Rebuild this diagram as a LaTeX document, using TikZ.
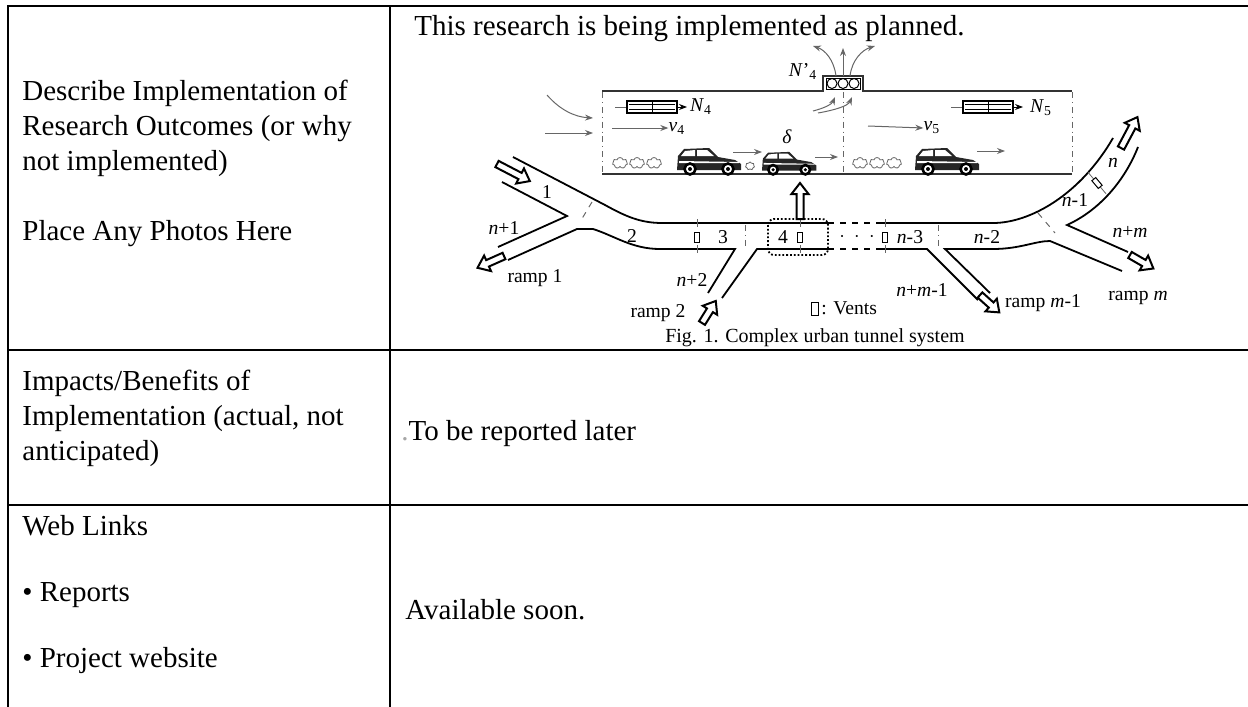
\documentclass[tikz,border=0pt]{standalone}
\usepackage{fontspec}
\setmainfont{Liberation Serif}
\usetikzlibrary{
  arrows.meta,
  shapes.symbols,
}
\tikzset{
  x = 0.5pt,
  y = -0.5pt,
  >={Stealth[length=4pt, width=3pt]},
  rule/.style={line width=1.25pt},
  cell/.style={anchor=base west, inner sep=0pt, align=left,
    font=\fontsize{14.5}{17.5}\selectfont},
  lbl/.style={inner sep=0pt, font=\fontsize{9.8}{11}\selectfont},
  road/.style={line width=0.9pt},
  air/.style={->, black!60, line width=0.5pt},
  sect/.style={black!60, dash dot, line width=0.5pt},
  puff/.style={cloud, cloud puffs=7, draw=black!60, minimum width=7.5pt,
    minimum height=5.5pt, inner sep=0pt},
  pics/hollow/.style={code={
    \draw[fill=white, line width=1pt, line join=miter]
      (0,-3.5) -- (#1-11,-3.5) -- (#1-11,-8.5) -- (#1,0) -- (#1-11,8.5) -- (#1-11,3.5) -- (0,3.5) -- cycle;
  }},
  pics/car/.style={code={
    \fill[black!85] (0,-4) -- (1,-18) -- (7,-25) -- (32,-26) -- (41,-17) -- (58,-14)
      -- (64,-10) -- (64,-4) -- cycle;
    \fill[white] (8,-23) -- (18,-24) -- (18,-18) -- (4,-18) -- cycle;
    \fill[white] (20,-24) -- (30,-24) -- (37,-18) -- (20,-18) -- cycle;
    \fill[white] (2,-13) -- (62,-12) -- (62,-11) -- (2,-11) -- cycle;
    \foreach \w in {13,51}{
      \draw[fill=white, line width=1.3pt] (\w,-5) circle[radius=5.5];
      \fill (\w,-5) circle[radius=2];
    }
  }},
  pics/jetfan/.style={code={
    \draw[black!60, line width=0.4pt] (-12,0) -- (0,0);
    \draw[line width=0.7pt] (0,-6) rectangle (50,6);
    \draw[line width=0.5pt] (2,-2.5) -- (48,-2.5) (2,2.5) -- (48,2.5) (25,-6) -- (25,6);
    \draw[->, line width=0.5pt] (50,0) -- (60,0);
  }},
}

\begin{document}
\begin{tikzpicture}
  \useasboundingbox (0,0) rectangle (1248,707);
  %% table
  \draw[rule] (8,6) -- (1248,6);
  \draw[rule] (8,350) -- (1248,350);
  \draw[rule] (8,505) -- (1248,505);
  \draw[rule] (8,5) -- (8,707);
  \draw[rule] (390,5) -- (390,707);
  %% base of a multi-line cell is its last line
  \node[cell](desc) at (22,240){Describe Implementation of\\Research Outcomes (or why\\not implemented)\\[17.5pt]Place Any Photos Here};
  \node[cell](impact) at (22,460){Impacts/Benefits of\\Implementation (actual, not\\anticipated)};
  \node[cell](web) at (22,535){Web Links};
  \node[cell](reports) at (22,601){• Reports};
  \node[cell](site) at (22,667){• Project website};
  \node[cell](res) at (414,35){This research is being implemented as planned.};
  \node[cell](later) at (401,440){{\color{black!35}.}To be reported later};
  \node[cell](avail) at (405,619){Available soon.};
  %% tunnel
  \draw[line width=1pt, black!80] (602,91) -- (823,91) -- (823,76) -- (863,76) -- (863,91) -- (1072,91);
  \draw[line width=1.4pt, black!80] (602,174) -- (1072,174);
  \foreach \x in {602,843,1072} \draw[sect] (\x,92) -- (\x,172);
  \draw[line width=0.5pt] (826,78) rectangle (860,89);
  \foreach \x in {832,843,854} \draw[line width=0.5pt] (\x,83.5) circle[radius=5];
  \node[lbl](N4p) at (803,71){\textit{N}'\textsubscript{4}};
  \draw[air] (843,76) -- (843,48);
  \draw[air] (836,76) .. controls (834,60) and (825,50) .. (813,46);
  \draw[air] (850,76) .. controls (852,60) and (862,50) .. (875,46);
  \draw[air] (813,111) .. controls (825,108) and (832,104) .. (835,97);
  \draw[air] (818,113) .. controls (835,110) and (848,106) .. (852,97);
  %%
  \pic at (627,107) {jetfan};
  \node[lbl](N4) at (701,107){\textit{N}\textsubscript{4}};
  \pic at (963,107) {jetfan};
  \node[lbl](N5) at (1041,108){\textit{N}\textsubscript{5}};
  \node[lbl](v4) at (677,128){\textit{v}\textsubscript{4}};
  \draw[air] (612,128) -- (v4.west);
  \node[lbl](v5) at (932,128){\textit{v}\textsubscript{5}};
  \draw[air] (868,126) -- (v5.west);
  \draw[air] (545,133) -- (593,133);
  \draw[air] (547,95) .. controls (560,110) and (575,117) .. (593,118);
  \node[lbl](delta) at (787,137){\textit{δ}};
  %%
  \foreach \x in {620,637,654,860,877,894} \node[puff](p\x) at (\x,163){};
  \node[puff, minimum width=4.5pt, minimum height=4pt](p750) at (750,166){};
  \pic at (677,174) {car};
  \pic[scale=0.85] at (762,174) {car};
  \pic at (915,174) {car};
  \draw[air] (733,152) -- (762,152);
  \draw[air] (815,157) -- (838,157);
  \draw[air] (977,151) -- (1005,151);
  %% road network
  \draw[road] (513,157) -- (605,205) .. controls (625,216) and (640,223) .. (662,223) -- (828,223);
  \draw[road] (502,182) -- (567,216) -- (498,247);
  \draw[road] (508,260) -- (577,229) -- (593,229) .. controls (615,236) and (632,249) .. (660,249) -- (735,249) -- (708,293);
  \draw[road] (722,298) -- (757,249) -- (828,249);
  \draw[road, dashed] (828,223) -- (878,223);
  \draw[road, dashed] (828,249) -- (878,249);
  \draw[road] (878,223) -- (993,223) .. controls (1030,223) and (1080,195) .. (1113,138);
  \draw[road] (878,249) -- (927,249) -- (978,300);
  \draw[road] (990,293) -- (945,249) -- (993,249) .. controls (1020,249) and (1035,241) .. (1050,241) -- (1122,271);
  \draw[road] (1138,147) .. controls (1125,180) and (1100,210) .. (1067,225) -- (1128,252);
  %%
  \draw[black!60, dashed, line width=0.5pt] (592,202) -- (580,222);
  \draw[black!60, dashed, line width=0.5pt] (1038,213) -- (1055,233);
  \foreach \x in {745,938} \draw[sect] (\x,225) -- (\x,249);
  \draw[densely dotted, line width=0.9pt, rounded corners=3pt] (768,219) rectangle (828,255);
  \foreach \x in {697,800,885}{
    \draw[black!60, line width=0.4pt] (\x,219) -- (\x,227) (\x,245) -- (\x,253);
    \draw[fill=white, line width=0.5pt] (\x-2.5,232) rectangle (\x+2.5,242);
  }
  \begin{scope}[shift={(1097,183)}, rotate=40]
    \draw[black!60, line width=0.4pt] (0,-14) -- (0,14);
    \draw[fill=white, line width=0.5pt] (-2.5,-5) rectangle (2.5,5);
  \end{scope}
  %%
  \pic[rotate=-27.5] at (497,164) {hollow=37};
  \pic[rotate=-156] at (504,256) {hollow=29};
  \pic[rotate=58] at (702,323) {hollow=26};
  \pic[rotate=-42] at (980,295) {hollow=26};
  \pic[rotate=62] at (1121,148) {hollow=35};
  \pic[rotate=-30] at (1130,255) {hollow=27};
  \pic[rotate=90] at (800,219) {hollow=36};
  %% labels
  \node[lbl](s1) at (547,192){1};
  \node[lbl](sn1) at (504,228){\textit{n}+1};
  \node[lbl](r1) at (535,278){ramp 1};
  \node[lbl](s2) at (632,236){2};
  \node[lbl](s3) at (723,237){3};
  \node[lbl](s4) at (783,237){4};
  \node[lbl](dots) at (857,237){$\cdot\ \cdot\ \cdot$};
  \node[lbl](sn3) at (910,237){\textit{n}-3};
  \node[lbl](sn2) at (987,237){\textit{n}-2};
  \node[lbl](snm1) at (1075,200){\textit{n}-1};
  \node[lbl](sn) at (1113,163){\textit{n}};
  \node[lbl](snm) at (1130,232){\textit{n}+\textit{m}};
  \node[lbl](sn2r) at (692,280){\textit{n}+2};
  \node[lbl](r2) at (658,313){ramp 2};
  \node[lbl](snmm) at (922,290){\textit{n}+\textit{m}-1};
  \node[lbl](rm1) at (1043,303){ramp \textit{m}-1};
  \node[lbl](rm) at (1138,298){ramp \textit{m}};
  \draw[line width=0.5pt] (811,302) rectangle (818,315);
  \node[lbl, anchor=west](vents) at (821,308){: Vents};
  \node[lbl, font=\fontsize{10}{12}\selectfont](cap) at (815,338){Fig. 1. Complex urban tunnel system};
\end{tikzpicture}
\end{document}
